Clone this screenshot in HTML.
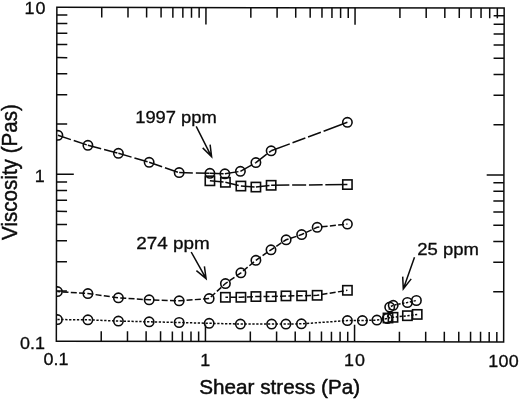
<!DOCTYPE html><html><head><meta charset="utf-8"><title>Viscosity vs shear stress</title><style>html,body{margin:0;padding:0;background:#fff}svg{display:block}text{font-family:"Liberation Sans",sans-serif}</style></head><body><svg width="520" height="401" viewBox="0 0 520 401">
<rect width="520" height="401" fill="#fff"/>
<defs><clipPath id="c"><rect x="56.60" y="7.70" width="447.30" height="333.95"/></clipPath></defs>
<g transform="rotate(0.09 280 175)">
<path d="M101.48 341.65v-10.1M101.48 7.70v10.1M127.74 341.65v-10.1M127.74 7.70v10.1M146.37 341.65v-10.1M146.37 7.70v10.1M160.82 341.65v-10.1M160.82 7.70v10.1M172.62 341.65v-10.1M172.62 7.70v10.1M182.60 341.65v-10.1M182.60 7.70v10.1M191.25 341.65v-10.1M191.25 7.70v10.1M198.88 341.65v-10.1M198.88 7.70v10.1M205.70 341.65v-17.0M205.70 7.70v17.0M250.58 341.65v-10.1M250.58 7.70v10.1M276.84 341.65v-10.1M276.84 7.70v10.1M295.47 341.65v-10.1M295.47 7.70v10.1M309.92 341.65v-10.1M309.92 7.70v10.1M321.72 341.65v-10.1M321.72 7.70v10.1M331.70 341.65v-10.1M331.70 7.70v10.1M340.35 341.65v-10.1M340.35 7.70v10.1M347.98 341.65v-10.1M347.98 7.70v10.1M354.80 341.65v-17.0M354.80 7.70v17.0M399.68 341.65v-10.1M399.68 7.70v10.1M425.94 341.65v-10.1M425.94 7.70v10.1M444.57 341.65v-10.1M444.57 7.70v10.1M459.02 341.65v-10.1M459.02 7.70v10.1M470.82 341.65v-10.1M470.82 7.70v10.1M480.80 341.65v-10.1M480.80 7.70v10.1M489.45 341.65v-10.1M489.45 7.70v10.1M497.08 341.65v-10.1M497.08 7.70v10.1M56.60 291.39h10.5M503.90 291.39h-10.5M56.60 261.98h10.5M503.90 261.98h-10.5M56.60 241.12h10.5M503.90 241.12h-10.5M56.60 224.94h10.5M503.90 224.94h-10.5M56.60 211.72h10.5M503.90 211.72h-10.5M56.60 200.54h10.5M503.90 200.54h-10.5M56.60 190.86h10.5M503.90 190.86h-10.5M56.60 182.32h10.5M503.90 182.32h-10.5M56.60 174.67h17.2M503.90 174.67h-17.2M56.60 124.41h10.5M503.90 124.41h-10.5M56.60 95.01h10.5M503.90 95.01h-10.5M56.60 74.15h10.5M503.90 74.15h-10.5M56.60 57.96h10.5M503.90 57.96h-10.5M56.60 44.74h10.5M503.90 44.74h-10.5M56.60 33.56h10.5M503.90 33.56h-10.5M56.60 23.88h10.5M503.90 23.88h-10.5M56.60 15.34h10.5M503.90 15.34h-10.5" stroke="#0c0c0c" stroke-width="1.5" fill="none"/>
<rect x="56.6" y="7.7" width="447.30" height="333.95" fill="none" stroke="#0c0c0c" stroke-width="1.5"/>
</g>
<g clip-path="url(#c)"><g transform="translate(0.4 0.3)">
<path d="M57.50 135.00L87.50 145.00" fill="none" stroke="#0c0c0c" stroke-width="1.5" stroke-dasharray="13.7 3"/>
<path d="M87.50 145.00L118.00 153.00" fill="none" stroke="#0c0c0c" stroke-width="1.5" stroke-dasharray="13.7 3"/>
<path d="M118.00 153.00L148.75 162.00" fill="none" stroke="#0c0c0c" stroke-width="1.5" stroke-dasharray="13.7 3"/>
<path d="M148.75 162.00L178.75 172.30" fill="none" stroke="#0c0c0c" stroke-width="1.5" stroke-dasharray="13.7 3"/>
<path d="M178.75 172.30L209.50 173.00" fill="none" stroke="#0c0c0c" stroke-width="1.5" stroke-dasharray="13.7 3"/>
<path d="M209.50 173.00L224.50 173.50" fill="none" stroke="#0c0c0c" stroke-width="1.5" stroke-dasharray="13.7 3"/>
<path d="M224.50 173.50L240.00 171.00" fill="none" stroke="#0c0c0c" stroke-width="1.5" stroke-dasharray="13.7 3"/>
<path d="M240.00 171.00L255.50 162.30" fill="none" stroke="#0c0c0c" stroke-width="1.5" stroke-dasharray="13.7 3"/>
<path d="M255.50 162.30L270.75 150.50" fill="none" stroke="#0c0c0c" stroke-width="1.5" stroke-dasharray="13.7 3"/>
<path d="M270.75 150.50L347.00 122.00" fill="none" stroke="#0c0c0c" stroke-width="1.5" stroke-dasharray="19.9 2.9 13.7 2.9 13.7 2.9 100"/>
<path d="M209.50 180.50L225.00 182.00" fill="none" stroke="#0c0c0c" stroke-width="1.5" stroke-dasharray="13.7 3"/>
<path d="M225.00 182.00L240.50 185.75" fill="none" stroke="#0c0c0c" stroke-width="1.5" stroke-dasharray="13.7 3"/>
<path d="M240.50 185.75L255.50 186.75" fill="none" stroke="#0c0c0c" stroke-width="1.5" stroke-dasharray="13.7 3"/>
<path d="M255.50 186.75L270.75 185.00" fill="none" stroke="#0c0c0c" stroke-width="1.5" stroke-dasharray="13.7 3"/>
<path d="M270.75 185.00L347.00 184.25" fill="none" stroke="#0c0c0c" stroke-width="1.5" stroke-dasharray="18.2 2.8 14 2.8 13.7 2.7 100"/>
<path d="M57.00 291.25L87.50 293.25L118.00 297.50L148.75 299.50L178.75 300.50L208.75 298.25L225.00 283.25L240.50 272.50L255.50 260.00L270.60 249.50L285.75 239.50L301.25 234.25L316.75 227.00L347.00 223.75" fill="none" stroke="#0c0c0c" stroke-width="1.5" stroke-dasharray="6 2.3" stroke-dashoffset="3.18"/>
<path d="M225.00 297.00L240.50 297.00L255.50 296.25L270.75 296.30L285.60 295.60L301.25 295.50L316.75 295.00L347.00 290.00" fill="none" stroke="#0c0c0c" stroke-width="1.5" stroke-dasharray="6 2.3" stroke-dashoffset="3.39"/>
<path d="M57.00 319.25L87.50 319.50L118.00 320.75L148.75 321.50L178.75 322.20L208.75 323.00L240.00 323.75L271.25 323.75L285.50 323.75L301.00 323.50L347.00 320.30L362.00 320.30L376.50 319.80L386.90 318.20L389.30 306.80L392.80 305.00L407.00 302.20L416.00 300.20" fill="none" stroke="#0c0c0c" stroke-width="1.5" stroke-dasharray="2.3 1.6" stroke-dashoffset="0.00"/>
<path d="M387.60 317.70L392.60 317.00L407.00 315.40L416.80 314.10" fill="none" stroke="#0c0c0c" stroke-width="1.5" stroke-dasharray="2.3 1.6" stroke-dashoffset="0.00"/>
<circle cx="57.50" cy="135.00" r="4.7" fill="none" stroke="#0c0c0c" stroke-width="1.6"/>
<circle cx="87.50" cy="145.00" r="4.7" fill="none" stroke="#0c0c0c" stroke-width="1.6"/>
<circle cx="118.00" cy="153.00" r="4.7" fill="none" stroke="#0c0c0c" stroke-width="1.6"/>
<circle cx="148.75" cy="162.00" r="4.7" fill="none" stroke="#0c0c0c" stroke-width="1.6"/>
<circle cx="178.75" cy="172.30" r="4.7" fill="none" stroke="#0c0c0c" stroke-width="1.6"/>
<circle cx="209.50" cy="173.00" r="4.7" fill="none" stroke="#0c0c0c" stroke-width="1.6"/>
<circle cx="224.50" cy="173.50" r="4.7" fill="none" stroke="#0c0c0c" stroke-width="1.6"/>
<circle cx="240.00" cy="171.00" r="4.7" fill="none" stroke="#0c0c0c" stroke-width="1.6"/>
<circle cx="255.50" cy="162.30" r="4.7" fill="none" stroke="#0c0c0c" stroke-width="1.6"/>
<circle cx="270.75" cy="150.50" r="4.7" fill="none" stroke="#0c0c0c" stroke-width="1.6"/>
<circle cx="347.00" cy="122.00" r="4.7" fill="none" stroke="#0c0c0c" stroke-width="1.6"/>
<rect x="204.85" y="175.85" width="9.3" height="9.3" fill="none" stroke="#0c0c0c" stroke-width="1.6"/>
<rect x="220.35" y="177.35" width="9.3" height="9.3" fill="none" stroke="#0c0c0c" stroke-width="1.6"/>
<rect x="235.85" y="181.10" width="9.3" height="9.3" fill="none" stroke="#0c0c0c" stroke-width="1.6"/>
<rect x="250.85" y="182.10" width="9.3" height="9.3" fill="none" stroke="#0c0c0c" stroke-width="1.6"/>
<rect x="266.10" y="180.35" width="9.3" height="9.3" fill="none" stroke="#0c0c0c" stroke-width="1.6"/>
<rect x="342.35" y="179.60" width="9.3" height="9.3" fill="none" stroke="#0c0c0c" stroke-width="1.6"/>
<circle cx="57.00" cy="291.25" r="4.7" fill="none" stroke="#0c0c0c" stroke-width="1.6"/>
<circle cx="87.50" cy="293.25" r="4.7" fill="none" stroke="#0c0c0c" stroke-width="1.6"/>
<circle cx="118.00" cy="297.50" r="4.7" fill="none" stroke="#0c0c0c" stroke-width="1.6"/>
<circle cx="148.75" cy="299.50" r="4.7" fill="none" stroke="#0c0c0c" stroke-width="1.6"/>
<circle cx="178.75" cy="300.50" r="4.7" fill="none" stroke="#0c0c0c" stroke-width="1.6"/>
<circle cx="208.75" cy="298.25" r="4.7" fill="none" stroke="#0c0c0c" stroke-width="1.6"/>
<circle cx="225.00" cy="283.25" r="4.7" fill="none" stroke="#0c0c0c" stroke-width="1.6"/>
<circle cx="240.50" cy="272.50" r="4.7" fill="none" stroke="#0c0c0c" stroke-width="1.6"/>
<circle cx="255.50" cy="260.00" r="4.7" fill="none" stroke="#0c0c0c" stroke-width="1.6"/>
<circle cx="270.60" cy="249.50" r="4.7" fill="none" stroke="#0c0c0c" stroke-width="1.6"/>
<circle cx="285.75" cy="239.50" r="4.7" fill="none" stroke="#0c0c0c" stroke-width="1.6"/>
<circle cx="301.25" cy="234.25" r="4.7" fill="none" stroke="#0c0c0c" stroke-width="1.6"/>
<circle cx="316.75" cy="227.00" r="4.7" fill="none" stroke="#0c0c0c" stroke-width="1.6"/>
<circle cx="347.00" cy="223.75" r="4.7" fill="none" stroke="#0c0c0c" stroke-width="1.6"/>
<rect x="220.35" y="292.35" width="9.3" height="9.3" fill="none" stroke="#0c0c0c" stroke-width="1.6"/>
<rect x="235.85" y="292.35" width="9.3" height="9.3" fill="none" stroke="#0c0c0c" stroke-width="1.6"/>
<rect x="250.85" y="291.60" width="9.3" height="9.3" fill="none" stroke="#0c0c0c" stroke-width="1.6"/>
<rect x="266.10" y="291.65" width="9.3" height="9.3" fill="none" stroke="#0c0c0c" stroke-width="1.6"/>
<rect x="280.95" y="290.95" width="9.3" height="9.3" fill="none" stroke="#0c0c0c" stroke-width="1.6"/>
<rect x="296.60" y="290.85" width="9.3" height="9.3" fill="none" stroke="#0c0c0c" stroke-width="1.6"/>
<rect x="312.10" y="290.35" width="9.3" height="9.3" fill="none" stroke="#0c0c0c" stroke-width="1.6"/>
<rect x="342.35" y="285.35" width="9.3" height="9.3" fill="none" stroke="#0c0c0c" stroke-width="1.6"/>
<circle cx="57.00" cy="319.25" r="4.7" fill="none" stroke="#0c0c0c" stroke-width="1.6"/>
<circle cx="87.50" cy="319.50" r="4.7" fill="none" stroke="#0c0c0c" stroke-width="1.6"/>
<circle cx="118.00" cy="320.75" r="4.7" fill="none" stroke="#0c0c0c" stroke-width="1.6"/>
<circle cx="148.75" cy="321.50" r="4.7" fill="none" stroke="#0c0c0c" stroke-width="1.6"/>
<circle cx="178.75" cy="322.20" r="4.7" fill="none" stroke="#0c0c0c" stroke-width="1.6"/>
<circle cx="208.75" cy="323.00" r="4.7" fill="none" stroke="#0c0c0c" stroke-width="1.6"/>
<circle cx="240.00" cy="323.75" r="4.7" fill="none" stroke="#0c0c0c" stroke-width="1.6"/>
<circle cx="271.25" cy="323.75" r="4.7" fill="none" stroke="#0c0c0c" stroke-width="1.6"/>
<circle cx="285.50" cy="323.75" r="4.7" fill="none" stroke="#0c0c0c" stroke-width="1.6"/>
<circle cx="301.00" cy="323.50" r="4.7" fill="none" stroke="#0c0c0c" stroke-width="1.6"/>
<circle cx="347.00" cy="320.30" r="4.7" fill="none" stroke="#0c0c0c" stroke-width="1.6"/>
<circle cx="362.00" cy="320.30" r="4.7" fill="none" stroke="#0c0c0c" stroke-width="1.6"/>
<circle cx="376.50" cy="319.80" r="4.7" fill="none" stroke="#0c0c0c" stroke-width="1.6"/>
<circle cx="386.90" cy="318.20" r="4.7" fill="none" stroke="#0c0c0c" stroke-width="1.6"/>
<circle cx="389.30" cy="306.80" r="4.7" fill="none" stroke="#0c0c0c" stroke-width="1.6"/>
<circle cx="392.80" cy="305.00" r="4.7" fill="none" stroke="#0c0c0c" stroke-width="1.6"/>
<circle cx="407.00" cy="302.20" r="4.7" fill="none" stroke="#0c0c0c" stroke-width="1.6"/>
<circle cx="416.00" cy="300.20" r="4.7" fill="none" stroke="#0c0c0c" stroke-width="1.6"/>
<rect x="382.95" y="313.05" width="9.3" height="9.3" fill="none" stroke="#0c0c0c" stroke-width="1.6"/>
<rect x="387.95" y="312.35" width="9.3" height="9.3" fill="none" stroke="#0c0c0c" stroke-width="1.6"/>
<rect x="402.35" y="310.75" width="9.3" height="9.3" fill="none" stroke="#0c0c0c" stroke-width="1.6"/>
<rect x="412.15" y="309.45" width="9.3" height="9.3" fill="none" stroke="#0c0c0c" stroke-width="1.6"/>
</g></g>
<path d="M196.2 126.4L211.6 156.8M202.7 147.9L211.6 156.8L210.1 144.6" fill="none" stroke="#0c0c0c" stroke-width="1.5" stroke-linejoin="miter"/>
<path d="M191.2 252L206.1 278.7M196.4 270.7L206.1 278.7L204.4 266.4" fill="none" stroke="#0c0c0c" stroke-width="1.5" stroke-linejoin="miter"/>
<path d="M414.5 257.3L403.3 289.0M402.7 276.6L403.3 289.0L411.2 278.9" fill="none" stroke="#0c0c0c" stroke-width="1.5" stroke-linejoin="miter"/>
<text transform="translate(24.5 14.3) scale(1.1 1)" font-size="16.3" text-anchor="start" letter-spacing="0.9" stroke-width="0.3" fill="#0c0c0c" stroke="#0c0c0c">10</text>
<text transform="translate(34.8 182.3) scale(1.1 1)" font-size="16.3" text-anchor="start" letter-spacing="0.9" stroke-width="0.3" fill="#0c0c0c" stroke="#0c0c0c">1</text>
<text transform="translate(20.0 348.6) scale(1.1 1)" font-size="16.3" text-anchor="start" letter-spacing="0" stroke-width="0.3" fill="#0c0c0c" stroke="#0c0c0c">0.1</text>
<text transform="translate(43.6 365.3) scale(1.1 1)" font-size="16.3" text-anchor="start" letter-spacing="0" stroke-width="0.3" fill="#0c0c0c" stroke="#0c0c0c">0.1</text>
<text transform="translate(200.3 365.8) scale(1.1 1)" font-size="16.3" text-anchor="start" letter-spacing="0.9" stroke-width="0.3" fill="#0c0c0c" stroke="#0c0c0c">1</text>
<text transform="translate(344 365.6) scale(1.1 1)" font-size="16.3" text-anchor="start" letter-spacing="0.9" stroke-width="0.3" fill="#0c0c0c" stroke="#0c0c0c">10</text>
<text transform="translate(488.2 366.5) scale(1.1 1)" font-size="16.3" text-anchor="start" letter-spacing="0.3" stroke-width="0.3" fill="#0c0c0c" stroke="#0c0c0c">100</text>
<text transform="translate(135.2 123.3) scale(1.133 1)" font-size="16.2" text-anchor="start" letter-spacing="0" stroke-width="0.3" fill="#0c0c0c" stroke="#0c0c0c">1997 ppm</text>
<text transform="translate(136.2 248.5) scale(1.165 1)" font-size="16.2" text-anchor="start" letter-spacing="0" stroke-width="0.3" fill="#0c0c0c" stroke="#0c0c0c">274 ppm</text>
<text transform="translate(417.3 255.4) scale(1.142 1)" font-size="16.2" text-anchor="start" letter-spacing="0" stroke-width="0.3" fill="#0c0c0c" stroke="#0c0c0c">25 ppm</text>
<text transform="translate(199.2 393.9) scale(1.04 1)" font-size="19.9" text-anchor="start" letter-spacing="0" stroke-width="0.45" fill="#0c0c0c" stroke="#0c0c0c">Shear stress (Pa)</text>
<text transform="translate(16.9 240.0) rotate(-90) scale(0.963 1)" font-size="21.4" text-anchor="start" letter-spacing="0" stroke-width="0.45" fill="#0c0c0c" stroke="#0c0c0c">Viscosity (Pas)</text>
</svg></body></html>
